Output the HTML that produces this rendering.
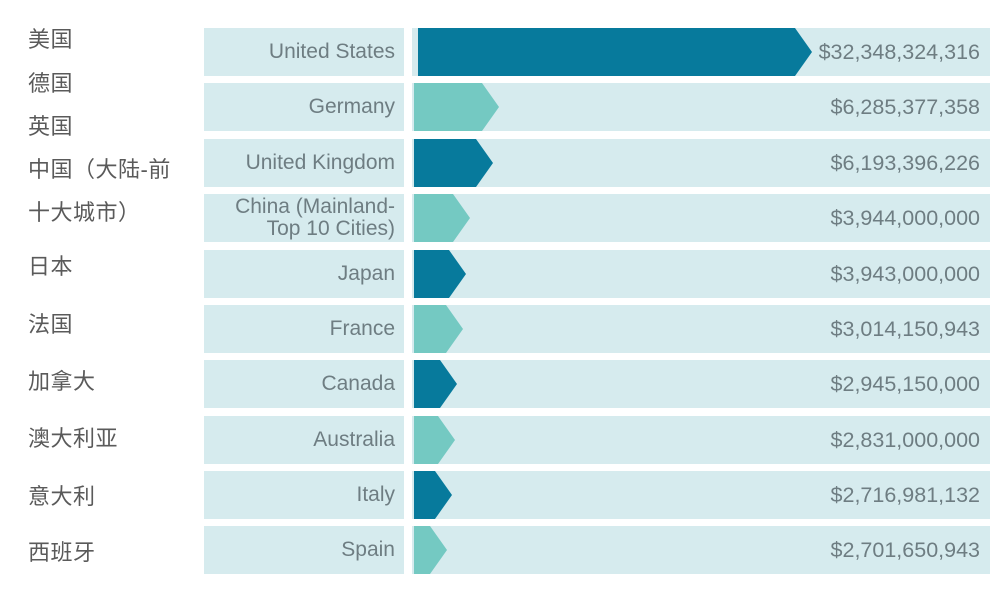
<!DOCTYPE html><html><head><meta charset="utf-8"><style>
body{margin:0;width:1008px;height:591px;background:#fff;position:relative;font-family:"Liberation Sans","Noto Sans CJK SC",sans-serif;overflow:hidden}
.cn{position:absolute;left:28px;font-size:22px;color:#5a5a5a;line-height:26px;white-space:nowrap;letter-spacing:0.5px}
.lab{position:absolute;left:204px;width:200px;height:48px;background:#d6ebee;color:#6e7d82;font-size:21px;text-align:right;box-sizing:border-box;padding-right:9px;display:flex;align-items:center;justify-content:flex-end;line-height:22px;white-space:nowrap}
.bg{position:absolute;left:412px;width:578px;height:48px;background:#d6ebee}
.val{position:absolute;right:28px;font-size:21.5px;color:#6e7d82;line-height:48px}
svg{position:absolute;left:0;top:0}
</style></head><body>
<div class="cn" style="top:27px">美国</div>
<div class="cn" style="top:71px">德国</div>
<div class="cn" style="top:114px">英国</div>
<div class="cn" style="top:157px">中国（大陆-前</div>
<div class="cn" style="top:200px">十大城市）</div>
<div class="cn" style="top:254px">日本</div>
<div class="cn" style="top:312px">法国</div>
<div class="cn" style="top:369px">加拿大</div>
<div class="cn" style="top:426px">澳大利亚</div>
<div class="cn" style="top:484px">意大利</div>
<div class="cn" style="top:540px">西班牙</div>

<div class="lab" style="top:28px">United States</div>
<div class="lab" style="top:83px">Germany</div>
<div class="lab" style="top:139px">United Kingdom</div>
<div class="lab" style="top:194px">China (Mainland-<br>Top 10 Cities)</div>
<div class="lab" style="top:250px">Japan</div>
<div class="lab" style="top:305px">France</div>
<div class="lab" style="top:360px">Canada</div>
<div class="lab" style="top:416px">Australia</div>
<div class="lab" style="top:471px">Italy</div>
<div class="lab" style="top:526px">Spain</div>

<div class="bg" style="top:28px"></div><div class="bg" style="top:83px"></div><div class="bg" style="top:139px"></div><div class="bg" style="top:194px"></div><div class="bg" style="top:250px"></div><div class="bg" style="top:305px"></div><div class="bg" style="top:360px"></div><div class="bg" style="top:416px"></div><div class="bg" style="top:471px"></div><div class="bg" style="top:526px"></div>

<svg width="1008" height="591">
<polygon points="418,28 795,28 812,52 795,76 418,76" fill="#077a9c"/>
<polygon points="414,83 482,83 499,107 482,131 414,131" fill="#74c9c2"/>
<polygon points="414,139 476,139 493,163 476,187 414,187" fill="#077a9c"/>
<polygon points="414,194 453,194 470,218 453,242 414,242" fill="#74c9c2"/>
<polygon points="414,250 449,250 466,274 449,298 414,298" fill="#077a9c"/>
<polygon points="414,305 446,305 463,329 446,353 414,353" fill="#74c9c2"/>
<polygon points="414,360 440,360 457,384 440,408 414,408" fill="#077a9c"/>
<polygon points="414,416 438,416 455,440 438,464 414,464" fill="#74c9c2"/>
<polygon points="414,471 435,471 452,495 435,519 414,519" fill="#077a9c"/>
<polygon points="414,526 430,526 447,550 430,574 414,574" fill="#74c9c2"/>
</svg>

<div class="val" style="top:28px">$32,348,324,316</div>
<div class="val" style="top:83px">$6,285,377,358</div>
<div class="val" style="top:139px">$6,193,396,226</div>
<div class="val" style="top:194px">$3,944,000,000</div>
<div class="val" style="top:250px">$3,943,000,000</div>
<div class="val" style="top:305px">$3,014,150,943</div>
<div class="val" style="top:360px">$2,945,150,000</div>
<div class="val" style="top:416px">$2,831,000,000</div>
<div class="val" style="top:471px">$2,716,981,132</div>
<div class="val" style="top:526px">$2,701,650,943</div>
</body></html>
